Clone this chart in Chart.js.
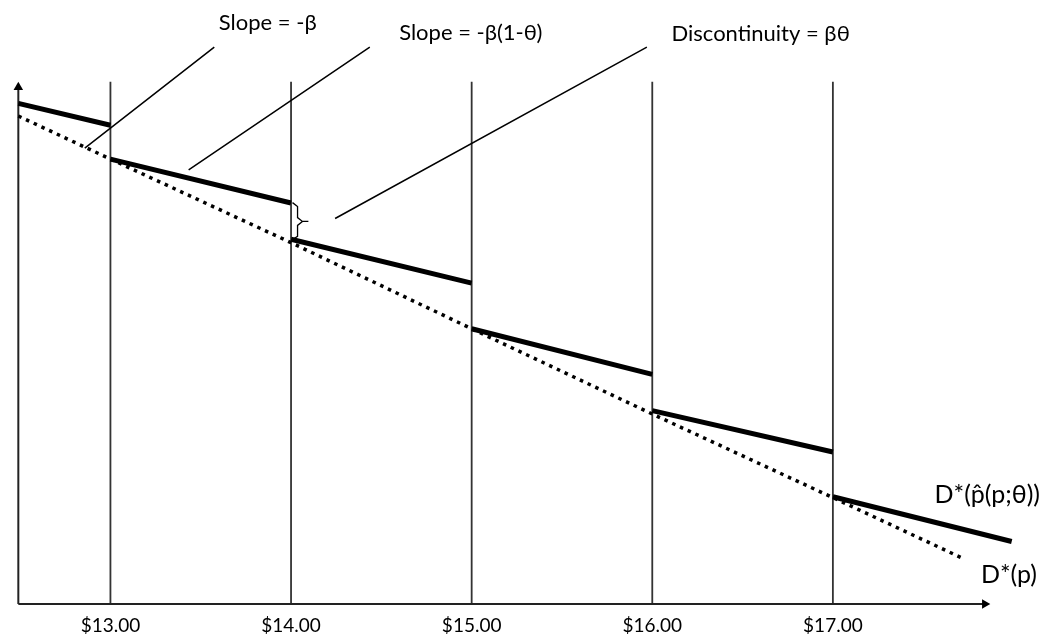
<!DOCTYPE html>
<html><head><meta charset="utf-8">
<script src="https://cdn.jsdelivr.net/npm/chart.js@4"></script>
<style>html,body{margin:0;padding:0;background:#fff}#wrap{width:1060px;height:642px;position:relative}</style>
</head><body><div id="wrap"><canvas id="c"></canvas></div>
<script>
// ---- data (price in $, quantity in demand units) ----
const xTicks = [13, 14, 15, 16, 17];
const priceMin = 12.419, priceMax = 18.227;
const qMin = 0, qMax = 7.089;

// D*(p) : dotted reference demand
const dStarP = [12.49, 13, 14, 15, 16, 17, 17.72];
const dStarQ = [5.78, 5.27, 4.28, 3.26, 2.25, 1.26, 0.54];

// D*(p̂(p;θ)) : thick piecewise segments (start / end of each)
const segStartP = [12.49, 13, 14, 15, 16, 17];
const segEndP   = [13, 14, 15, 16, 17, 17.99];
const segStartQ = [5.93, 5.27, 4.32, 3.26, 2.29, 1.27];
const segEndQ   = [5.67, 4.75, 3.80, 2.72, 1.80, 0.74];

// axes and price-point verticals
const axisOriginP = 12.49;
const xAxisEndP = 17.841;
const yAxisTopQ = 6.121;
const gridTopQ = 6.185;

// annotation leaders
const leaderText = ['Slope = -β', 'Slope = -β(1-θ)', 'Discontinuity = βθ'];
const leaderTextP = [13.871, 14.995, 16.60];
const leaderTextQ = [6.878, 6.761, 6.749];
const leaderFromP = [13.575, 14.436, 15.970];
const leaderFromQ = [6.596, 6.596, 6.596];
const leaderToP = [12.858, 13.433, 14.244];
const leaderToQ = [5.399, 5.141, 4.566];

// brace marking the discontinuity at $14
const braceP = [14.008, 14.036, 14.036, 14.063, 14.096, null, 14.063, 14.036, 14.036, 14.008];
const braceQ = [4.754, 4.707, 4.577, 4.531, 4.531, null, 4.531, 4.484, 4.354, 4.318];

// curve labels
const curveText = ['D*(p\u0302(p;θ))', 'D*(p)'];
const curveTextP = [17.855, 17.975];
const curveTextQ = [1.291, 0.340];

// ---- build datasets ----
function pts(ps, qs){ return ps.map((p,i)=> p===null ? {x: ps[i-1], y: null} : {x:p, y:qs[i]}); }
const thick = [];
segStartP.forEach((p,i)=>{
  if(i>0) thick.push({x:p, y:null});
  thick.push({x:p, y:segStartQ[i]}, {x:segEndP[i], y:segEndQ[i]});
});
const verts = [];
xTicks.forEach((p,i)=>{
  if(i>0) verts.push({x:p, y:null});
  verts.push({x:p, y:0}, {x:p, y:gridTopQ});
});
const leaders = [];
leaderFromP.forEach((p,i)=>{
  if(i>0) leaders.push({x:p, y:null});
  leaders.push({x:p, y:leaderFromQ[i]}, {x:leaderToP[i], y:leaderToQ[i]});
});

const base = {pointRadius:0, fill:false, tension:0, clip:false, spanGaps:false, borderCapStyle:'butt'};

const annotate = {
  id:'annotate',
  afterDatasetsDraw(chart){
    const {ctx, scales:{x, y}} = chart;
    ctx.save();
    ctx.fillStyle = '#000';
    ctx.textAlign = 'center';
    ctx.textBaseline = 'middle';
    ctx.font = '22px Lato, "Open Sans", sans-serif';
    leaderText.forEach((t,i)=> ctx.fillText(t, x.getPixelForValue(leaderTextP[i]), y.getPixelForValue(leaderTextQ[i])));
    ctx.font = '25px Lato, "Open Sans", sans-serif';
    curveText.forEach((t,i)=> ctx.fillText(t, x.getPixelForValue(curveTextP[i]), y.getPixelForValue(curveTextQ[i])));
    ctx.restore();
  }
};

new Chart(document.getElementById('c'), {
  type: 'line',
  data: {
    datasets: [
      Object.assign({}, base, {label:'brace', data: pts(braceP, braceQ), borderColor:'#000', borderWidth:1.3, order:1}),
      Object.assign({}, base, {label:'leaders', data: leaders, borderColor:'#000', borderWidth:1.5, order:2}),
      Object.assign({}, base, {label:'D*(p̂(p;θ))', data: thick, borderColor:'#000', borderWidth:5, order:3}),
      Object.assign({}, base, {label:'D*(p)', data: pts(dStarP, dStarQ), borderColor:'#000', borderWidth:3.5, borderDash:[3.5,5], order:4}),
      Object.assign({}, base, {label:'x-axis', data:[{x:axisOriginP,y:0},{x:xAxisEndP,y:0}], borderColor:'#222', borderWidth:2,
        pointRadius:[0,5.5], pointStyle:'triangle', rotation:[0,90], pointBackgroundColor:'#000', pointBorderColor:'#000', pointBorderWidth:0, order:5}),
      Object.assign({}, base, {label:'y-axis', data:[{x:axisOriginP,y:0},{x:axisOriginP,y:yAxisTopQ}], borderColor:'#222', borderWidth:2,
        pointRadius:[0,5.5], pointStyle:'triangle', rotation:[0,0], pointBackgroundColor:'#000', pointBorderColor:'#000', pointBorderWidth:0, order:6}),
      Object.assign({}, base, {label:'prices', data: verts, borderColor:'#333', borderWidth:1.8, order:7})
    ]
  },
  options: {
    responsive: true, maintainAspectRatio: false, animation: false, devicePixelRatio: 1,
    layout: {padding: 0},
    plugins: {legend:{display:false}, tooltip:{enabled:false}},
    events: [],
    scales: {
      x: {
        type: 'linear', min: priceMin, max: priceMax,
        grid: {display:false, drawTicks:false}, border: {display:false},
        afterBuildTicks: s => { s.ticks = xTicks.map(v=>({value:v})); },
        afterFit: s => { s.height = 38; },
        ticks: {padding: 10, color:'#000', font:{family:'Lato', size:19}, maxRotation:0, autoSkip:false,
          callback: v => '$' + Number(v).toFixed(2)}
      },
      y: {type:'linear', display:false, min:qMin, max:qMax}
    }
  },
  plugins: [annotate]
});
</script></body></html>
